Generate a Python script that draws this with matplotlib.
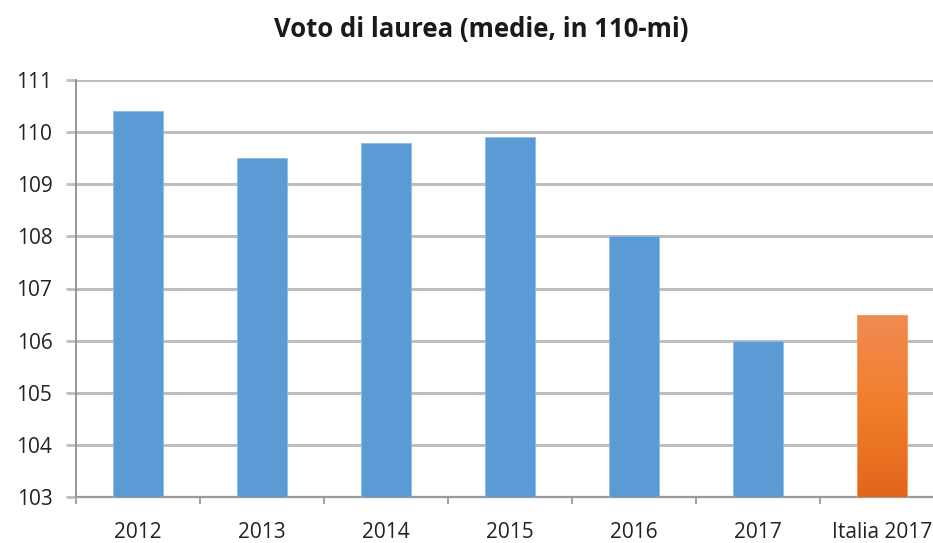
import matplotlib
matplotlib.use("Agg")
import matplotlib.pyplot as plt
import numpy as np
from matplotlib.colors import LinearSegmentedColormap

categories = ["2012", "2013", "2014", "2015", "2016", "2017", "Italia 2017"]
values = [110.4, 109.5, 109.8, 109.9, 108.0, 106.0, 106.5]
yticks = [103, 104, 105, 106, 107, 108, 109, 110, 111]
title = "Voto di laurea (medie, in 110-mi)"

plt.rcParams['font.family'] = ['Open Sans', 'DejaVu Sans']

W, H = 933, 543
fig = plt.figure(figsize=(W/100, H/100), dpi=100)
ax = fig.add_axes([76/W, 46/H, 868/W, 417/H])

x = np.arange(len(categories))
bw = 0.41
blue = "#5B9BD5"
bars = ax.bar(x[:-1], values[:-1], width=bw, color=blue, edgecolor="#8DBBE6",
              linewidth=0.6, zorder=3, bottom=0)
# orange gradient bar
ob = ax.bar(x[-1], values[-1], width=bw, color="none", edgecolor="#F5A36E",
            linewidth=0.6, zorder=4)
cmap = LinearSegmentedColormap.from_list("og", ["#E2661A", "#F27E2C", "#EF8B52"])
grad = np.linspace(0, 1, 256).reshape(-1, 1)
im = ax.imshow(grad, cmap=cmap, origin="lower", aspect="auto",
               extent=[x[-1]-bw/2, x[-1]+bw/2, 103, values[-1]], zorder=3)
im.set_clip_path(ob[0])

ax.set_ylim(103, 111)
ax.set_xlim(-0.5, 6.5)
ax.set_yticks(yticks)
ax.set_yticklabels([str(t) for t in yticks])
ax.yaxis.grid(True, color="#BEBEBE", linewidth=2.2, zorder=0)
ax.set_axisbelow(True)

ax.set_xticks(x)
ax.set_xticklabels(categories)
ax.set_xticks(np.arange(-0.5, 6.6, 1.0), minor=True)
ax.tick_params(axis="x", which="major", length=0, pad=18, labelsize=15, labelcolor="#222222")
ax.tick_params(axis="x", which="minor", length=5, width=1.3, color="#9A9A9A", direction="out")
ax.tick_params(axis="y", length=7, width=2, color="#BEBEBE", pad=10, labelsize=15, labelcolor="#222222")

for s in ["top", "right"]:
    ax.spines[s].set_visible(False)
ax.spines["left"].set_color("#8E8E8E")
ax.spines["left"].set_linewidth(1.3)
ax.spines["bottom"].set_color("#9A9A9A")
ax.spines["bottom"].set_linewidth(1.6)

fig.text(481/W, 1 - 30/H, title, ha="center", va="center", fontsize=18.5,
         fontweight="bold", color="#1a1a1a")

fig.savefig("out.png", dpi=100)
